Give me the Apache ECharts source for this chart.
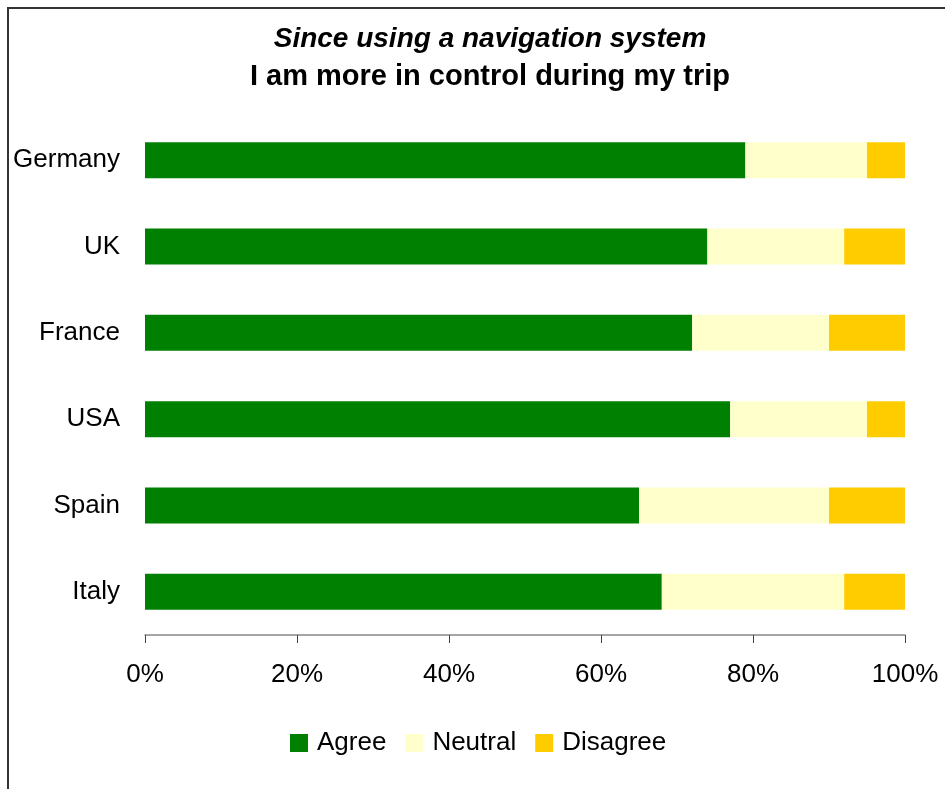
<!DOCTYPE html>
<html>
<head>
<meta charset="utf-8">
<script src="https://cdn.jsdelivr.net/npm/echarts@6/dist/echarts.min.js"></script>
<style>
html,body{margin:0;padding:0;background:#fff;}
#chart{width:945px;height:789px;}
</style>
</head>
<body>
<div id="chart"></div>
<script>
const categories = ['Germany', 'UK', 'France', 'USA', 'Spain', 'Italy'];
const agree = [79, 74, 72, 77, 65, 68];
const neutral = [16, 18, 18, 18, 25, 24];
const disagree = [5, 8, 10, 5, 10, 8];
const xTicks = [0, 20, 40, 60, 80, 100];
const seriesNames = ['Agree', 'Neutral', 'Disagree'];

const FONT = '"Liberation Sans", Arial, sans-serif';
const chart = echarts.init(document.getElementById('chart'));
const colors = ['#008000', '#FFFFCC', '#FFCC00'];
const values = [agree, neutral, disagree];

chart.setOption({
  animation: false,
  backgroundColor: '#fff',
  title: {
    text: '{a|Since using a navigation system}\n{b|I am more in control during my trip}',
    left: 490,
    top: 21,
    textAlign: 'center',
    padding: 0,
    textStyle: {
      rich: {
        a: { fontFamily: FONT, fontSize: 28, fontWeight: 'bold', fontStyle: 'italic', color: '#000', lineHeight: 37 },
        b: { fontFamily: FONT, fontSize: 29, fontWeight: 'bold', color: '#000', lineHeight: 37 }
      }
    }
  },
  legend: {
    data: seriesNames,
    left: 290,
    top: 730,
    itemWidth: 18,
    itemHeight: 18,
    itemGap: 19,
    icon: 'rect',
    padding: 0,
    textStyle: { fontFamily: FONT, fontSize: 26, color: '#000', padding: [0, 0, 0, 4] }
  },
  grid: { left: 145, right: 40, top: 117, bottom: 154, containLabel: false },
  xAxis: {
    type: 'value',
    min: xTicks[0],
    max: xTicks[xTicks.length - 1],
    interval: xTicks[1] - xTicks[0],
    axisLine: { show: true, lineStyle: { color: '#888', width: 1.5 } },
    axisTick: { show: true, length: 8, lineStyle: { color: '#444', width: 1 } },
    splitLine: { show: false },
    axisLabel: { formatter: '{value}%', fontFamily: FONT, fontSize: 26, color: '#000', margin: 27, lineHeight: 26 }
  },
  yAxis: {
    type: 'category',
    data: categories,
    inverse: true,
    axisLine: { show: false },
    axisTick: { show: false },
    axisLabel: { fontFamily: FONT, fontSize: 26, color: '#000', margin: 25 }
  },
  graphic: [{
    type: 'polyline',
    shape: { points: [[8, 789], [8, 8], [945, 8]] },
    style: { stroke: '#333', lineWidth: 2, fill: null },
    silent: true
  }],
  series: seriesNames.map((name, i) => ({
    name: name,
    type: 'bar',
    stack: 'total',
    barWidth: 36,
    itemStyle: { color: colors[i] },
    data: values[i]
  }))
});
</script>
</body>
</html>
